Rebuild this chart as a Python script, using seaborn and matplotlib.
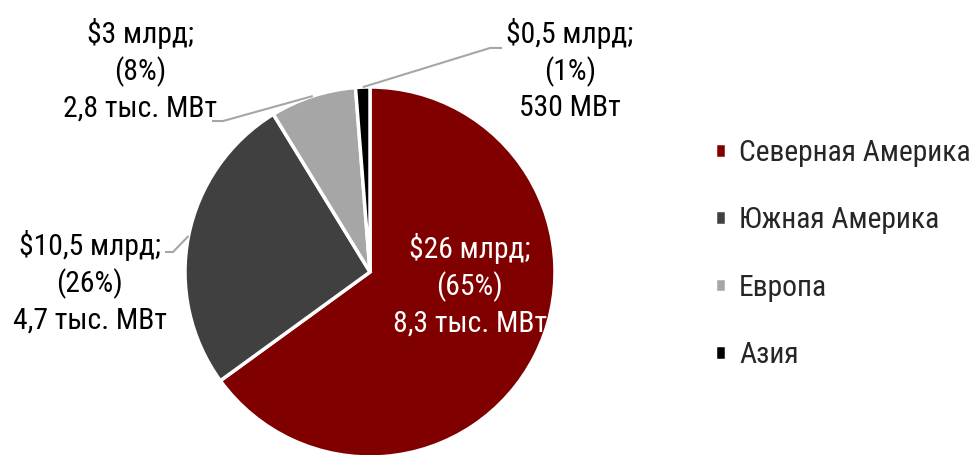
import matplotlib
matplotlib.use("Agg")
import matplotlib.pyplot as plt
import seaborn as sns
import numpy as np

regions = ["Северная Америка", "Южная Америка", "Европа", "Азия"]
invest_bn = [26, 10.5, 3, 0.5]
share_lbl = ["65%", "26%", "8%", "1%"]
capacity_lbl = ["8,3 тыс. МВт", "4,7 тыс. МВт", "2,8 тыс. МВт", "530 МВт"]
invest_lbl = ["$26 млрд;", "$10,5 млрд;", "$3 млрд;", "$0,5 млрд;"]
colors = ["#800000", "#404040", "#a6a6a6", "#000000"]

sns.set_theme(style="white")
plt.rcParams["font.family"] = ["Roboto Condensed", "PT Sans Narrow", "Liberation Sans", "DejaVu Sans"]

W, H = 971, 455
fig = plt.figure(figsize=(W / 100, H / 100), dpi=100)
cx, cy, r = 370, 272, 185
ax = fig.add_axes([(cx - r) / W, (H - cy - r) / H, 2 * r / W, 2 * r / H])
wedges, _ = ax.pie(invest_bn, colors=colors, startangle=90, counterclock=False,
                   wedgeprops=dict(edgecolor="white", linewidth=2.5))
ax.set_xlim(-1, 1)
ax.set_ylim(-1, 1)
ax.set_aspect("equal")
ax.axis("off")

fs = 21.3
ls = 1.32
def lbl(i):
    return f"{invest_lbl[i]}\n({share_lbl[i]})\n{capacity_lbl[i]}"

# inside label for North America
ax.text(0.54, -0.07, lbl(0), color="white", ha="center", va="center",
        fontsize=fs, linespacing=ls)

# outside labels: (text position, elbow start, elbow end)
outside = {
    1: ((-1.514, -0.054), (-1.108, 0.108), (-1.065, 0.108)),
    2: ((-1.243, 1.092), (-0.854, 0.816), (-0.795, 0.816)),
    3: ((1.081, 1.092), (0.714, 1.211), (0.649, 1.211)),
}
for i, (tpos, e1, e2) in outside.items():
    w = wedges[i]
    mid = np.deg2rad((w.theta1 + w.theta2) / 2)
    px, py = np.cos(mid), np.sin(mid)
    ax.plot([e1[0], e2[0], px], [e1[1], e2[1], py], color="#a6a6a6", lw=1.5,
            clip_on=False, solid_capstyle="butt")
    ax.text(tpos[0], tpos[1], lbl(i), color="black", ha="center", va="center",
            fontsize=fs, linespacing=ls, clip_on=False)

fig.legend(wedges, regions, loc="center left", bbox_to_anchor=(688 / W, 1 - 254 / H),
           frameon=False, fontsize=fs, handlelength=0.38, handleheight=0.38,
           handletextpad=0.45, labelspacing=1.33)

fig.savefig("out.png", dpi=100)
